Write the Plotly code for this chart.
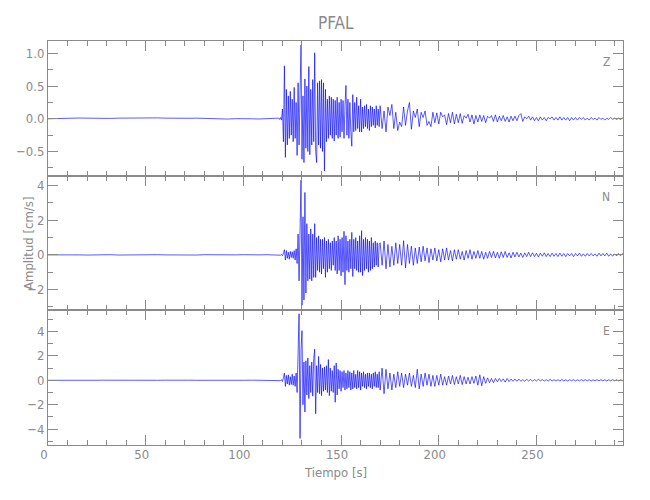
import numpy as np
import plotly.graph_objects as go
from plotly.subplots import make_subplots

# ---- sample times (three sampling segments) ----
PRE_START, PRE_STEP = 0.0, 4.0      # quiet part, coarse
EVT_START, EVT_STEP = 118.0, 0.5    # strong motion, dense
TAIL_START, TAIL_STEP = 170.0, 1.0  # coda

# ---- Z component (cm/s) ----
z_pre = [0.0, 0.005, 0.01, 0.008, 0.012, 0.01, 0.005, 0.0, 0.006, 0.01,
         0.012, 0.008, 0.005, 0.01, 0.014, 0.01, 0.006, 0.004, 0.008, 0.01,
         0.006, 0.002, 0.0, -0.004, 0.002, 0.006, 0.0, -0.003, 0.0, 0.005]
z_evt = [0.01, -0.01, 0.02, -0.02,
         0.15, -0.35, 0.81, -0.59, 0.45, -0.4, 0.35, -0.3,
         0.42, -0.25, 0.3, -0.35, 0.48, -0.3, 0.25, -0.56,
         0.55, -0.4, 0.6, 1.13, -0.62, 0.35, -0.67, 0.61,
         -0.45, 0.5, -0.5, 0.8, -0.55, 0.45, -0.4, 0.6,
         -0.35, 1.01, -0.5, -0.67, 0.55, -0.4, 0.58, -0.45,
         0.6, -0.5, 0.55, -0.8, 0.45, -0.35, 0.3, -0.3,
         0.35, -0.25, 0.33, -0.3, 0.3, -0.34, 0.28, -0.25,
         0.33, -0.3, 0.25, -0.28, 0.3, -0.2, 0.28, -0.3,
         0.2, 0.51, -0.25, 0.3, -0.3, 0.25, -0.2, -0.42,
         0.37, -0.2, 0.25, -0.18, 0.33, -0.15, 0.2, -0.2,
         0.3, -0.2, 0.18, -0.15, 0.2, -0.12, 0.22, -0.15,
         0.15, -0.18, 0.2, -0.12, 0.18, -0.1, 0.15, -0.14,
         0.2, -0.1, 0.15, -0.12]
z_tail = [0.2, -0.15, 0.12, -0.2, 0.18, 0.05, 0.22, -0.15, 0.1, -0.18,
          -0.05, -0.12, 0.18, -0.1, 0.12, 0.25, -0.16, 0.12, 0.02, 0.15,
          -0.12, 0.1, 0.02, 0.12, -0.1, -0.04, -0.12, 0.1, -0.06, 0.09,
          -0.08, 0.1, 0.03, 0.06, -0.09, 0.08, -0.06, 0.1, -0.08, 0.07,
          -0.06, 0.08, -0.07, 0.05, 0.01, 0.07, -0.05, 0.06, -0.08, 0.05,
          -0.05, 0.06, -0.04, 0.05, -0.06, 0.04, 0.01, 0.05, -0.04, 0.06,
          -0.05, 0.04, -0.03, 0.05, -0.04, 0.03, -0.05, 0.04, -0.03, 0.04,
          -0.03, 0.05, 0.08, -0.04, 0.03, 0.0, 0.04, -0.02, 0.03, -0.03,
          0.02, -0.03, 0.03, -0.02, 0.02, -0.03, 0.02, 0.0, 0.03, -0.02,
          0.02, -0.02, 0.03, -0.02, 0.02, -0.02, 0.02, -0.03, 0.02, -0.02,
          0.02, -0.02, 0.02, -0.01, 0.02, -0.02, 0.01, -0.02, 0.02, -0.01,
          0.01, -0.02, 0.02, -0.01, 0.01, -0.02, 0.01, -0.01, 0.02, -0.01,
          0.01, -0.01, 0.01, -0.01, 0.01, 0.0]

# ---- N component (cm/s) ----
n_pre = [0.0, 0.01, -0.01, 0.01, 0.0, -0.01, 0.01, 0.0, 0.01, -0.01,
         0.0, 0.01, -0.01, 0.0, 0.01, 0.0, -0.01, 0.01, 0.0, -0.01,
         0.01, 0.0, 0.01, -0.01, 0.0, 0.01, -0.01, 0.0, 0.01, 0.0]
n_evt = [0.0, 0.02, -0.02, 0.03,
         -0.05, 0.1, 0.3, -0.3, 0.25, -0.2, 0.15, -0.25,
         0.2, -0.15, 0.18, -0.2, 0.25, -0.3, 0.35, -0.5,
         1.2, -1.5, 2.5, 4.31, -2.9, 2.2, -2.6, 3.6,
         -2.2, 1.8, -1.5, 1.2, -1.4, 1.5, -1.5, 1.2,
         -1.3, 1.8, -1.3, 1.0, -0.9, 1.1, -1.0, 0.9,
         -1.1, 0.9, -0.8, 1.0, -1.3, 0.8, -1.0, 0.9,
         -0.8, 0.7, -0.9, 0.8, -0.6, 1.0, -0.9, 0.8,
         -1.1, 1.1, -0.9, 0.9, -1.2, 1.0, -1.0, 1.36,
         -1.72, 1.1, -0.9, 0.8, -1.0, 0.9, -0.8, 1.3,
         -1.25, 0.9, -0.8, 1.0, -0.9, 0.8, -1.0, 1.1,
         -1.0, 1.4, -1.2, 0.9, -0.9, 1.0, -0.8, 0.9,
         -1.0, 0.8, -0.9, 1.0, -0.8, 0.7, -0.7, 0.8,
         -0.6, 0.7, -0.7, 0.6]
n_tail = [0.7, -0.6, 0.8, -0.8, 0.6, -0.7, 0.5, -0.6, 0.7, -0.5,
          0.6, -0.6, 0.82, -0.75, 0.6, -0.5, 0.5, -0.6, 0.4, -0.5,
          0.45, -0.4, 0.5, -0.35, 0.4, -0.45, 0.35, -0.3, 0.4, -0.35,
          0.3, -0.4, 0.35, -0.3, 0.4, -0.3, 0.25, -0.35, 0.3, -0.25,
          0.3, -0.25, 0.2, -0.3, 0.25, -0.2, 0.3, -0.25, 0.2, -0.2,
          0.25, -0.2, 0.2, -0.25, 0.15, -0.2, 0.2, -0.15, 0.2, -0.18,
          0.15, -0.2, 0.18, -0.15, 0.2, -0.15, 0.12, -0.18, 0.15, -0.12,
          0.15, -0.12, 0.1, -0.15, 0.12, -0.1, 0.15, -0.1, 0.12, -0.1,
          0.1, -0.12, 0.1, -0.08, 0.12, -0.1, 0.08, -0.1, 0.1, -0.08,
          0.08, -0.1, 0.1, -0.08, 0.08, -0.1, 0.08, -0.06, 0.08, -0.1,
          0.08, -0.06, 0.1, -0.08, 0.06, -0.08, 0.08, -0.06, 0.08, -0.06,
          0.06, -0.08, 0.1, -0.06, 0.08, -0.06, 0.1, -0.08, 0.06, -0.08,
          0.06, -0.06, 0.08, -0.05, 0.06, 0.0]

# ---- E component (cm/s) ----
e_pre = [0.0, -0.01, 0.01, 0.0, 0.01, -0.01, 0.0, 0.01, 0.0, -0.01,
         0.01, 0.0, -0.01, 0.01, 0.0, 0.01, -0.01, 0.0, 0.01, 0.0,
         -0.01, 0.01, 0.0, 0.01, -0.01, 0.0, 0.01, 0.0, -0.01, 0.0]
e_evt = [0.0, 0.03, -0.03, 0.05,
         -0.1, 0.2, 0.6, -0.5, 0.4, -0.3, 0.45, -0.4,
         0.3, -0.35, 0.5, -0.4, 0.35, -0.5, 0.6, -1.0,
         3.7, 5.45, -4.76, 2.5, 4.06, -2.0, 1.5, -2.6,
         1.6, -1.2, 1.83, -1.5, 1.2, -1.0, 1.5, -1.3,
         1.8, 2.55, -2.74, 1.2, -1.0, 1.96, -1.1, 1.3,
         -1.26, 1.0, -0.9, 1.1, -0.8, 1.2, -1.0, 1.7,
         -1.26, 1.0, -0.9, 0.8, -1.0, 1.2, -1.8, 1.42,
         -1.2, 0.9, -0.7, 0.8, -0.9, 0.7, -0.6, 0.8,
         -0.8, 0.6, -0.7, 0.8, -0.6, 0.7, -0.8, 0.6,
         -0.7, 0.8, -0.6, 0.5, -0.7, 0.8, -0.6, 0.7,
         -0.8, 0.6, -0.5, 0.7, -0.6, 0.5, -0.7, 0.6,
         -0.5, 0.6, -0.6, 0.5, -0.7, 0.6, -0.5, 0.7,
         -0.6, 0.5, -0.6, 0.7]
e_tail = [-0.8, 1.0, -1.1, 0.9, -0.7, 0.6, -0.8, 0.5, -0.6, 0.7,
          -0.5, 0.6, -0.6, 0.5, -0.4, 0.6, -0.5, 0.4, -0.6, 0.9,
          -0.7, 0.5, -0.5, 0.6, -0.4, 0.5, -0.5, 0.4, -0.5, 0.4,
          -0.4, 0.5, -0.4, 0.3, -0.4, 0.35, -0.3, 0.4, -0.35, 0.3,
          -0.3, 0.4, -0.35, 0.3, -0.3, 0.25, -0.3, 0.3, -0.25, 0.35,
          -0.4, 0.45, -0.45, 0.3, -0.25, 0.2, -0.2, 0.15, -0.2, 0.15,
          -0.12, 0.15, -0.1, 0.12, -0.15, 0.15, -0.1, 0.1, -0.08, 0.1,
          -0.08, 0.1, -0.08, 0.06, -0.08, 0.08, -0.06, 0.08, -0.08, 0.06,
          -0.06, 0.08, -0.05, 0.06, -0.06, 0.05, -0.06, 0.08, -0.06, 0.05,
          -0.06, 0.05, -0.05, 0.06, -0.05, 0.04, -0.06, 0.05, -0.04, 0.05,
          -0.05, 0.04, -0.05, 0.06, -0.04, 0.05, -0.04, 0.05, -0.05, 0.04,
          -0.04, 0.05, -0.04, 0.05, -0.04, 0.04, -0.05, 0.04, -0.04, 0.05,
          -0.04, 0.04, -0.05, 0.04, -0.03, 0.0]

components = ["Z", "N", "E"]
y_ranges = [[-0.87, 1.19], [-3.2, 4.57], [-5.3, 5.73]]
y_dticks = [0.5, 2, 2]
y_minor = [0.25, 1, 1]
x_range = [0, 294.3]
x_ticks = [0, 50, 100, 150, 200, 250]


def build(pre, evt, tail):
    t = np.concatenate([
        PRE_START + PRE_STEP * np.arange(len(pre)),
        EVT_START + EVT_STEP * np.arange(len(evt)),
        TAIL_START + TAIL_STEP * np.arange(len(tail)),
    ])
    v = np.concatenate([pre, evt, tail])
    return t, v


traces = [build(z_pre, z_evt, z_tail), build(n_pre, n_evt, n_tail), build(e_pre, e_evt, e_tail)]

GRAY = "#8a8a8a"
FONT = "DejaVu Sans Condensed, Liberation Sans Narrow, sans-serif"

fig = make_subplots(rows=3, cols=1, shared_xaxes=True, vertical_spacing=0)

for i, (t, v) in enumerate(traces):
    fig.add_trace(go.Scatter(x=t, y=v, mode="lines",
                             line=dict(color="#0000ff", width=0.65),
                             showlegend=False, hoverinfo="skip"), row=i + 1, col=1)
    fig.update_yaxes(range=y_ranges[i], dtick=y_dticks[i], tick0=0,
                     tickformat=".1f" if i == 0 else "d",
                     minor=dict(ticks="inside", dtick=y_minor[i], tick0=0, ticklen=5, tickcolor=GRAY),
                     row=i + 1, col=1)
    fig.add_annotation(text=components[i], xref="x domain",
                       yref="y domain" if i == 0 else f"y{i+1} domain",
                       x=0.981, y=0.91, showarrow=False,
                       font=dict(family=FONT, size=12, color=GRAY))

fig.update_xaxes(range=x_range, tickvals=x_ticks, showline=True, linecolor=GRAY, linewidth=1,
                 mirror="allticks", ticks="inside", ticklen=10, tickcolor=GRAY,
                 minor=dict(ticks="inside", dtick=10, tick0=0, ticklen=5, tickcolor=GRAY),
                 showgrid=False, zeroline=False, automargin=False,
                 ticklabelshift=-4, ticklabelstandoff=-3,
                 tickfont=dict(family=FONT, size=13, color=GRAY))
fig.update_yaxes(showline=True, linecolor=GRAY, linewidth=1, mirror="allticks",
                 ticks="inside", ticklen=10, tickcolor=GRAY,
                 showgrid=False, zeroline=False, automargin=False,
                 tickfont=dict(family=FONT, size=13, color=GRAY))

# plot area: 575 x 404 px
fig.add_annotation(text="PFAL", xref="paper", yref="paper", x=0.5, y=1.045,
                   yanchor="middle", showarrow=False, font=dict(family=FONT, size=17, color=GRAY))
fig.add_annotation(text="Tiempo [s]", xref="paper", yref="paper", x=0.5, y=-0.067,
                   yanchor="middle", showarrow=False, font=dict(family=FONT, size=13, color=GRAY))
fig.add_annotation(text="Amplitud [cm/s]", xref="paper", yref="paper", x=-0.0348, y=0.5,
                   xanchor="center", textangle=-90, showarrow=False,
                   font=dict(family=FONT, size=13, color=GRAY))

fig.update_layout(width=642, height=492, margin=dict(l=40, r=27, t=33, b=55, autoexpand=False),
                  plot_bgcolor="white", paper_bgcolor="white")

fig.write_html("out.html")
